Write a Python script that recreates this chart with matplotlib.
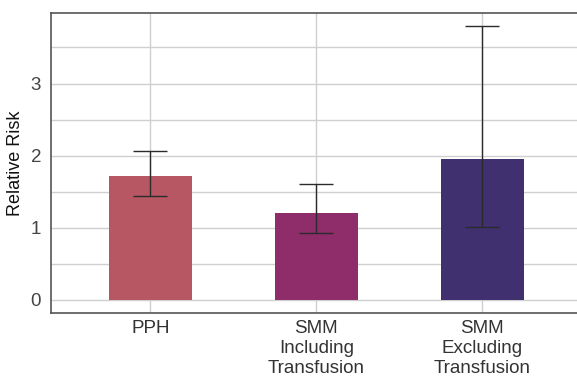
import matplotlib
matplotlib.use('Agg')
import matplotlib.pyplot as plt
import numpy as np

categories = ['PPH', 'SMM\nIncluding\nTransfusion', 'SMM\nExcluding\nTransfusion']
relative_risk = [1.72, 1.21, 1.96]
ci_lower = [1.44, 0.93, 1.01]
ci_upper = [2.07, 1.61, 3.80]
bar_colors = ['#b85764', '#8f2d6b', '#40306f']

plt.rcParams['font.family'] = ['Liberation Sans', 'DejaVu Sans']

fig = plt.figure(figsize=(5.77, 3.78), dpi=100)
ax = fig.add_axes([0.088, 0.172, 0.912, 0.794])

x = np.arange(len(categories))
rr = np.array(relative_risk)
yerr = np.vstack([rr - np.array(ci_lower), np.array(ci_upper) - rr])

ax.bar(x, rr, width=0.5, color=bar_colors, zorder=2)
ax.errorbar(x, rr, yerr=yerr, fmt='none', ecolor='#2b2b2b', elinewidth=1.0,
            capsize=12, capthick=1.0, zorder=3)

ax.set_xlim(-0.6, 2.57)
ax.set_ylim(-0.18, 3.98)
ax.set_xticks(x)
ax.set_xticklabels(categories, fontsize=13.5, color='#333333', linespacing=1.25)
ax.set_yticks([0, 1, 2, 3])
ax.set_yticks(np.arange(0.5, 4, 1), minor=True)
ax.tick_params(axis='x', which='both', length=0, pad=5)
ax.tick_params(axis='y', which='both', length=0, labelsize=13.5, labelcolor='#444444', pad=7)
ax.set_ylabel('Relative Risk', fontsize=13, color='#111111', labelpad=5)

ax.grid(True, which='major', color='#cfcfcf', linewidth=1.0, zorder=0)
ax.grid(True, which='minor', axis='y', color='#cfcfcf', linewidth=1.0, zorder=0)
ax.set_axisbelow(True)

for side in ['left', 'bottom', 'top']:
    ax.spines[side].set_color('#555555')
    ax.spines[side].set_linewidth(1.2)
ax.spines['right'].set_visible(False)

fig.savefig('out.png', dpi=100)
